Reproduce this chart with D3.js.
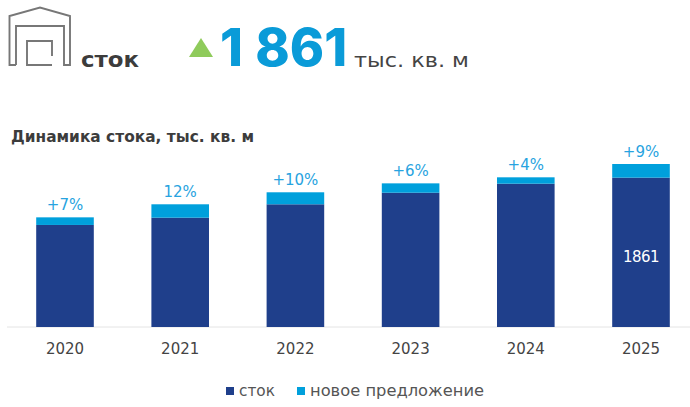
<!DOCTYPE html>
<html><head><meta charset="utf-8">
<script src="https://cdn.jsdelivr.net/npm/d3@7"></script>
<style>html,body{margin:0;padding:0;background:#fff}svg{display:block}text{font-family:"DejaVu Sans",sans-serif}</style>
</head><body><svg id="c" width="690" height="407"></svg>
<script>
const years=["2020","2021","2022","2023","2024","2025"];
const stock=[1165,1248,1401,1533,1636,1705];
const supply=[87,153,137,107,73,156];
const growth=["+7%","12%","+10%","+6%","+4%","+9%"];
const insideLabels=["","","","","","1861"];
const legendNames=["сток","новое предложение"];
const colors=["#1f3f8b","#00a0dc"];
const svg=d3.select("#c");
const x=d3.scaleBand().domain(years).range([7.4,698.6]).paddingInner(0.5).paddingOuter(0.25);
const y=d3.scaleLinear().domain([0,1861]).range([327,164]);
const axis=d3.axisBottom(x).tickSize(0).tickPadding(16);
const gx=svg.append("g").attr("transform","translate(0,327)").call(axis);
gx.select(".domain").attr("stroke","#e4e4e4").attr("d","M7,0H690");
gx.selectAll("text").attr("font-size",15).attr("fill","#444").style("font-family","'DejaVu Sans'");
const g=svg.append("g");
g.selectAll(".s").data(years).join("rect").attr("x",d=>x(d)).attr("width",x.bandwidth())
 .attr("y",(d,i)=>y(stock[i])).attr("height",(d,i)=>y(0)-y(stock[i])).attr("fill",colors[0]);
g.selectAll(".n").data(years).join("rect").attr("x",d=>x(d)).attr("width",x.bandwidth())
 .attr("y",(d,i)=>y(stock[i]+supply[i])).attr("height",(d,i)=>y(0)-y(supply[i])).attr("fill",colors[1]);
g.selectAll(".g").data(years).join("text").attr("x",d=>x(d)+x.bandwidth()/2)
 .attr("y",(d,i)=>y(stock[i]+supply[i])-7).attr("text-anchor","middle").attr("font-size",15).attr("fill","#27a3e0").text((d,i)=>growth[i]);
g.selectAll(".i").data(years).join("text").attr("x",d=>x(d)+x.bandwidth()/2)
 .attr("y",262).attr("text-anchor","middle").attr("font-size",15).attr("fill","#fff").attr("letter-spacing",-.6).text((d,i)=>insideLabels[i]);
// header
const ic=svg.append("g").attr("fill","none").attr("stroke","#777").attr("stroke-width",1.9);
ic.append("path").attr("d","M16,65H9.5V16L40,7.5L70,16V65H64V26H16V65");
ic.append("path").attr("d","M52,56V41H27V65H52");
function fit(t,w){t.attr("textLength",w).attr("lengthAdjust","spacingAndGlyphs");return t;}
fit(svg.append("text").attr("x",81).attr("y",67).attr("font-size",21).attr("font-weight",700).attr("fill","#3c3c3c").text("сток"),58);
svg.append("path").attr("d","M201,38L213,57H189Z").attr("fill","#8fcb5b");
svg.append("text").attr("x",220).attr("y",66).attr("font-size",52).attr("font-weight",800).attr("fill","#0a9bd8").style("font-family","Inter").attr("word-spacing",1).text("1 861");
fit(svg.append("text").attr("x",354).attr("y",67).attr("font-size",19).attr("fill","#444").text("тыс. кв. м"),115);
fit(svg.append("text").attr("x",11).attr("y",142).attr("font-size",15).attr("font-weight",700).attr("fill","#3c3c3c").text("Динамика стока, тыс. кв. м"),243);
// legend
const lx=[226,297];
legendNames.forEach((n,i)=>{
 svg.append("rect").attr("x",lx[i]).attr("y",387).attr("width",8).attr("height",8).attr("fill",colors[i]);
 fit(svg.append("text").attr("x",lx[i]+13).attr("y",396).attr("font-size",15).attr("fill","#555").text(n),i?174:36);
});
</script></body></html>
